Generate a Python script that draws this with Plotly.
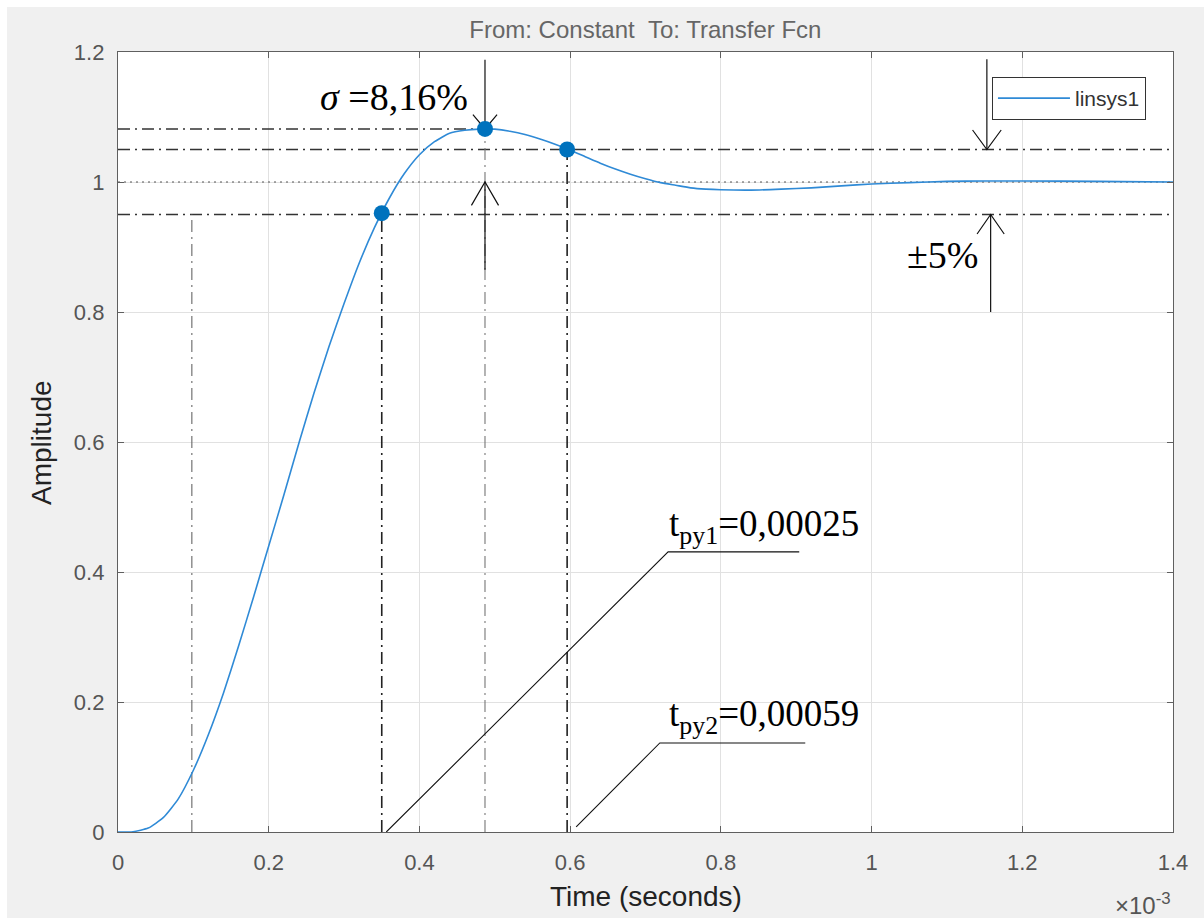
import plotly.graph_objects as go

# ---------------- data (time in units of 1e-3 s) ----------------
time_ms = [0.0, 0.02, 0.04, 0.06, 0.08, 0.10, 0.12, 0.14, 0.16, 0.18,
           0.20, 0.22, 0.24, 0.26, 0.28, 0.30, 0.32, 0.34, 0.36, 0.38,
           0.40, 0.42, 0.44, 0.46, 0.48, 0.49, 0.50, 0.52, 0.54, 0.56,
           0.58, 0.60, 0.62, 0.64, 0.66, 0.68, 0.70, 0.72, 0.74, 0.76,
           0.78, 0.80, 0.84, 0.88, 0.92, 0.96, 1.00, 1.05, 1.10, 1.15,
           1.20, 1.30, 1.40]
amplitude = [0.0, 0.0005, 0.006, 0.022, 0.051, 0.095, 0.150, 0.214, 0.286, 0.362,
             0.440, 0.518, 0.598, 0.675, 0.747, 0.813, 0.875, 0.929, 0.975, 1.013,
             1.042, 1.062, 1.075, 1.0795, 1.0814, 1.0816, 1.0813, 1.078, 1.073, 1.066,
             1.058, 1.049, 1.039, 1.029, 1.020, 1.012, 1.005, 0.999, 0.995, 0.991,
             0.989, 0.988, 0.9875, 0.989, 0.991, 0.994, 0.997, 0.999, 1.001, 1.0015,
             1.0015, 1.001, 1.0]

key_t = [0.35, 0.487, 0.596]          # band entry, peak, band exit
key_y = [0.952, 1.0816, 1.05]
band = [0.95, 1.05]
steady = 1.0
ref_t = 0.098                          # left reference line
t_end = 1.4

x_ticks = [0, 0.2, 0.4, 0.6, 0.8, 1.0, 1.2, 1.4]
x_ticktext = ["0", "0.2", "0.4", "0.6", "0.8", "1", "1.2", "1.4"]
y_ticks = [0, 0.2, 0.4, 0.6, 0.8, 1.0, 1.2]
y_ticktext = ["0", "0.2", "0.4", "0.6", "0.8", "1", "1.2"]

overshoot_label = "<i>σ</i> =8,16%"
band_label = "±5%"
t1_label = "t<sub>py1</sub>=0,00025"
t2_label = "t<sub>py2</sub>=0,00059"

# callouts: (x, y) in data units
t1_leader_x = [0.356, 0.730, 0.904]
t1_leader_y = [0.0, 0.431, 0.431]
t2_leader_x = [0.608, 0.719, 0.912]
t2_leader_y = [0.008, 0.137, 0.137]

# arrows: x, tail y, tip y, half-width of head, head length
arrows = [
    (0.487, 1.188, 1.0816, 0.016, 0.022),
    (0.487, 0.865, 1.0, 0.018, 0.036),
    (1.153, 1.189, 1.05, 0.019, 0.030),
    (1.158, 0.80, 0.95, 0.018, 0.030),
]

SERIF = "Liberation Serif, Times New Roman, serif"
SANS = "Liberation Sans, Arial, sans-serif"
DASHDOT = "12px,5px,2px,5px"

fig = go.Figure()


def ref_line(xs, ys, color="#333333", width=1.5, dash=DASHDOT):
    fig.add_trace(go.Scatter(x=xs, y=ys, mode="lines", showlegend=False,
                             hoverinfo="skip",
                             line=dict(color=color, width=width, dash=dash)))


# horizontal reference lines
ref_line([0, key_t[1]], [key_y[1], key_y[1]])
ref_line([0, t_end], [band[1], band[1]])
ref_line([0, t_end], [band[0], band[0]])
ref_line([0, t_end], [steady, steady], color="#555555", width=1, dash="2px,4px")

# vertical reference lines
ref_line([ref_t, ref_t], [0, band[0]], color="#666666", width=1.1)
ref_line([key_t[0], key_t[0]], [0, key_y[0]], color="#222222", width=1.6)
ref_line([key_t[1], key_t[1]], [0, key_y[1]], color="#777777", width=1.1)
ref_line([key_t[2], key_t[2]], [0, key_y[2]], color="#222222", width=1.6)

# leader lines
ref_line(t1_leader_x, t1_leader_y, color="#111111", width=1.1, dash="solid")
ref_line(t2_leader_x, t2_leader_y, color="#111111", width=1.1, dash="solid")

# arrows (open V heads)
ax, ay = [], []
for x, y0, y1, hw, hl in arrows:
    s = 1 if y1 > y0 else -1
    ax += [x, x, None, x - hw, x, x + hw, None]
    ay += [y0, y1, None, y1 - s * hl, y1, y1 - s * hl, None]
fig.add_trace(go.Scatter(x=ax, y=ay, mode="lines", showlegend=False,
                         hoverinfo="skip",
                         line=dict(color="#111111", width=1.2)))

# step response
fig.add_trace(go.Scatter(x=time_ms, y=amplitude, mode="lines", name="linsys1",
                         line=dict(color="#2f8ad6", width=1.6, shape="spline",
                                   smoothing=0.5)))
# key points
fig.add_trace(go.Scatter(x=key_t, y=key_y, mode="markers", showlegend=False,
                         marker=dict(color="#0072BD", size=16)))

annotations = [
    dict(x=0.467, y=1.131, text=overshoot_label, xanchor="right", yanchor="middle",
         showarrow=False, font=dict(family=SERIF, size=38, color="black")),
    dict(x=1.145, y=0.888, text=band_label, xanchor="right", yanchor="middle",
         showarrow=False, font=dict(family=SERIF, size=38, color="black")),
    dict(x=0.728, y=0.470, text=t1_label, xanchor="left", yanchor="middle",
         showarrow=False, font=dict(family=SERIF, size=37, color="black")),
    dict(x=0.728, y=0.178, text=t2_label, xanchor="left", yanchor="middle",
         showarrow=False, font=dict(family=SERIF, size=37, color="black")),
    dict(xref="paper", yref="paper", x=1.0, y=-0.092, text="×10<sup>-3</sup>",
         xanchor="right", yanchor="middle", showarrow=False,
         font=dict(family=SANS, size=24, color="#555555")),
    dict(xref="paper", yref="paper", x=0.5, y=-0.083, text="Time (seconds)",
         xanchor="center", yanchor="middle", showarrow=False,
         font=dict(family=SANS, size=28, color="#222222")),
    dict(xref="paper", yref="paper", x=-0.073, y=0.5, text="Amplitude",
         textangle=-90, xanchor="center", yanchor="middle", showarrow=False,
         font=dict(family=SANS, size=28, color="#222222")),
]

axis_common = dict(showgrid=True, gridcolor="#e1e1e1", gridwidth=1,
                   zeroline=False, showline=True, linecolor="#5f5f5f",
                   linewidth=1.3, mirror="ticks", ticks="inside", ticklen=6,
                   tickcolor="#5f5f5f", tickwidth=1.3,
                   tickfont=dict(family=SANS, size=22, color="#555555"))

fig.update_layout(
    width=1204, height=918,
    margin=dict(l=118, r=31, t=52, b=86),
    paper_bgcolor="#f0f0f0", plot_bgcolor="white",
    title=dict(text="From: Constant\u00a0\u00a0To: Transfer Fcn",
               x=0.536, xanchor="center", y=1 - 30 / 918, yanchor="middle",
               font=dict(family=SANS, size=24, color="#666666")),
    xaxis=dict(range=[0, 1.4], tickvals=x_ticks, ticktext=x_ticktext,
               ticklabelstandoff=10, **axis_common),
    yaxis=dict(range=[0, 1.2], tickvals=y_ticks, ticktext=y_ticktext,
               ticklabelstandoff=8, **axis_common),
    legend=dict(x=0.8284, y=0.968, xanchor="left", yanchor="top",
                bgcolor="white", bordercolor="#333333", borderwidth=1,
                itemwidth=72,
                font=dict(family=SANS, size=21, color="#333333")),
    annotations=annotations,
    shapes=[
        dict(type="rect", xref="paper", yref="paper", x0=-0.12, x1=-0.1052,
             y0=-0.12, y1=1.08, fillcolor="white", line=dict(width=0), layer="below"),
        dict(type="rect", xref="paper", yref="paper", x0=-0.12, x1=1.04,
             y0=1.0577, y1=1.08, fillcolor="white", line=dict(width=0), layer="below"),
    ],
)

fig.write_html("out.html", config={"displayModeBar": False},
               post_script="document.body.style.margin='0px';"
                           "document.body.style.overflow='hidden';")
